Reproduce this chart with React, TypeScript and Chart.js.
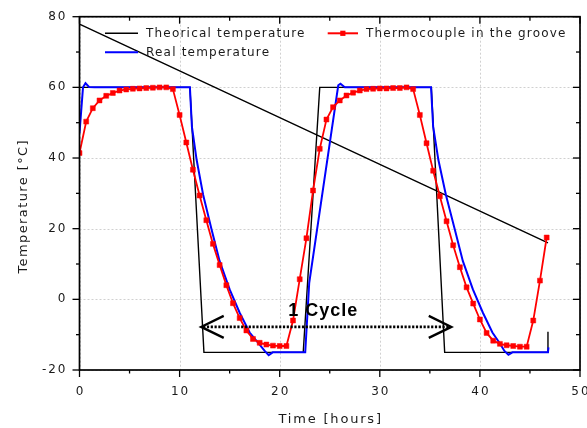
import { useEffect, useRef } from 'react';
import { Chart, registerables } from 'chart.js';

Chart.register(...registerables);

// ---- axis ticks ----
const X_TICKS = [0, 10, 20, 30, 40, 50];
const X_MINOR = [5, 15, 25, 35, 45];
const Y_TICKS = [-20, 0, 20, 40, 60, 80];
const Y_MINOR = [-10, 10, 30, 50, 70];

// ---- series: Thermocouple in the groove (red, squares) ----
const THERMO_T = [
  0, 0.67, 1.33, 2, 2.67, 3.33, 4, 4.67, 5.33, 6, 6.67, 7.33, 8, 8.67, 9.33, 10,
  10.67, 11.33, 12, 12.67, 13.33, 14, 14.67, 15.33, 16, 16.67, 17.33, 18, 18.67,
  19.33, 20, 20.67, 21.33, 22, 22.67, 23.33, 24, 24.67, 25.33, 26, 26.67, 27.33,
  28, 28.67, 29.33, 30, 30.67, 31.33, 32, 32.67, 33.33, 34, 34.67, 35.33, 36,
  36.67, 37.33, 38, 38.67, 39.33, 40, 40.67, 41.33, 42, 42.67, 43.33, 44, 44.67,
  45.33, 46, 46.67,
];
const THERMO_V = [
  41.4, 50.3, 54.1, 56.3, 57.6, 58.4, 59.1, 59.4, 59.6, 59.7, 59.8, 59.9, 60.0,
  60.0, 59.5, 52.2, 44.4, 36.7, 29.4, 22.4, 15.7, 9.7, 4.0, -1.1, -5.3, -8.8,
  -11.2, -12.3, -12.8, -13.1, -13.2, -13.2, -6.0, 5.7, 17.3, 30.8, 42.6, 50.9,
  54.4, 56.3, 57.7, 58.5, 59.1, 59.5, 59.6, 59.7, 59.7, 59.8, 59.8, 60.0, 59.5,
  52.2, 44.2, 36.4, 29.2, 22.1, 15.3, 9.1, 3.4, -1.2, -5.7, -9.5, -11.7, -12.6,
  -13.0, -13.2, -13.4, -13.4, -6.0, 5.3, 17.5,
];

// ---- series: Real temperature (blue) ----
const REAL_T = [
  0, 0.35, 0.6, 0.95, 1.5, 11.03, 11.23, 11.7, 12.35, 13.2, 14.0, 15.0, 16.0,
  17.0, 17.85, 18.5, 18.9, 19.3, 22.55, 22.95, 25.85, 26.07, 26.5, 35.12, 35.33,
  35.85, 36.6, 37.5, 38.3, 39.3, 40.3, 41.25, 42.0, 42.45, 42.85, 43.25, 46.8,
  46.85,
];
const REAL_V = [
  47, 60, 61.2, 60.1, 60, 60, 48.9, 39.5, 29.6, 19.7, 10.8, 2.8, -3.8, -9.4,
  -12.3, -14.6, -15.8, -15, -15, 4.7, 60.6, 61.0, 60, 60, 48.9, 39.5, 29.6,
  19.7, 10.8, 2.8, -3.8, -9.4, -12.5, -14.6, -15.7, -15, -15, -13.6,
];

// ---- series: Theorical temperature (black); null = break in the line ----
const THEO_T = [0, 11.03, 12.43, 22.35, 24.0, 35.15, 36.48, 46.8, 46.8, 46.8, 46.8, 0];
const THEO_V = [60, 60, -15, -15, 60, 60, -15, -15, -9.2, null, 16.0, 77.9];

// ---- "1 Cycle" annotation (data coordinates) ----
const CYCLE_FROM = 12.15;
const CYCLE_TO = 37.15;
const CYCLE_Y = -7.8;
const CYCLE_LABEL = '1 Cycle';
const CYCLE_LABEL_X = 24.3;
const CYCLE_LABEL_Y = -4.7;

const LEGEND = [
  { label: 'Theorical temperature', color: '#000000' },
  { label: 'Real temperature', color: '#0000ff' },
  { label: 'Thermocouple in the groove', color: '#ff0000' },
];

const zip = (t: number[], v: (number | null)[]) => t.map((x, i) => ({ x, y: v[i] }));

function spacedText(
  ctx: CanvasRenderingContext2D,
  s: string,
  x: number,
  y: number,
  align: 'left' | 'center' | 'right',
  sp: number,
) {
  (ctx as any).letterSpacing = sp + 'px';
  ctx.textAlign = 'left';
  const w = ctx.measureText(s).width - sp;
  const x0 = align === 'center' ? x - w / 2 : align === 'right' ? x - w : x;
  ctx.fillText(s, x0, y);
  (ctx as any).letterSpacing = '0px';
}

const decorPlugin = {
  id: 'decor',
  beforeDatasetsDraw(chart: any) {
    const { ctx, chartArea: a, scales } = chart;
    const xs = scales.x;
    const ys = scales.y;
    ctx.save();
    ctx.strokeStyle = '#d0d0d0';
    ctx.lineWidth = 1;
    ctx.setLineDash([2, 2]);
    X_TICKS.forEach((v) => {
      const px = Math.round(xs.getPixelForValue(v)) + 0.5;
      ctx.beginPath();
      ctx.moveTo(px, a.top);
      ctx.lineTo(px, a.bottom);
      ctx.stroke();
    });
    Y_TICKS.forEach((v) => {
      const py = Math.round(ys.getPixelForValue(v)) + 0.5;
      ctx.beginPath();
      ctx.moveTo(a.left, py);
      ctx.lineTo(a.right, py);
      ctx.stroke();
    });
    ctx.restore();
  },
  afterDatasetsDraw(chart: any) {
    const { ctx, chartArea: a, scales } = chart;
    const xs = scales.x;
    const ys = scales.y;
    ctx.save();
    ctx.setLineDash([]);
    // frame
    ctx.strokeStyle = '#000';
    ctx.lineWidth = 1.7;
    ctx.strokeRect(a.left, a.top, a.right - a.left, a.bottom - a.top);
    // tick marks
    ctx.lineWidth = 1.3;
    const tick = (x1: number, y1: number, x2: number, y2: number) => {
      ctx.beginPath();
      ctx.moveTo(x1, y1);
      ctx.lineTo(x2, y2);
      ctx.stroke();
    };
    X_TICKS.forEach((v) => {
      const px = xs.getPixelForValue(v);
      tick(px, a.bottom, px, a.bottom + 7);
      tick(px, a.top, px, a.top + 7);
    });
    X_MINOR.forEach((v) => {
      const px = xs.getPixelForValue(v);
      tick(px, a.bottom, px, a.bottom + 3.5);
      tick(px, a.top, px, a.top + 4);
    });
    Y_TICKS.forEach((v) => {
      const py = ys.getPixelForValue(v);
      tick(a.left - 7, py, a.left, py);
      tick(a.right - 7, py, a.right, py);
    });
    Y_MINOR.forEach((v) => {
      const py = ys.getPixelForValue(v);
      tick(a.left - 3.5, py, a.left, py);
      tick(a.right - 4, py, a.right, py);
    });
    // tick labels
    ctx.fillStyle = '#1a1a1a';
    ctx.font = '12px "DejaVu Sans"';
    ctx.textBaseline = 'middle';
    X_TICKS.forEach((v) => {
      spacedText(ctx, String(v), xs.getPixelForValue(v), a.bottom + 22, 'center', 2);
    });
    Y_TICKS.forEach((v) => {
      spacedText(ctx, String(v), a.left - 14, ys.getPixelForValue(v), 'right', 2);
    });
    // axis titles
    ctx.font = '13px "DejaVu Sans"';
    spacedText(ctx, 'Time [hours]', (a.left + a.right) / 2, a.bottom + 50, 'center', 1.8);
    ctx.save();
    ctx.translate(23.5, 207);
    ctx.rotate(-Math.PI / 2);
    spacedText(ctx, 'Temperature [°C]', 0, 0, 'center', 1.4);
    ctx.restore();

    // 1 Cycle annotation
    const ax1 = xs.getPixelForValue(CYCLE_FROM);
    const ax2 = xs.getPixelForValue(CYCLE_TO);
    const ay = ys.getPixelForValue(CYCLE_Y);
    ctx.strokeStyle = '#000';
    ctx.lineWidth = 2.6;
    ctx.setLineDash([2.2, 1.6]);
    tick(ax1 + 2, ay, ax2 - 2, ay);
    ctx.setLineDash([]);
    ctx.lineWidth = 2.3;
    ctx.beginPath();
    ctx.moveTo(ax1 + 22.6, ay - 11);
    ctx.lineTo(ax1, ay);
    ctx.lineTo(ax1 + 22.6, ay + 11);
    ctx.stroke();
    ctx.beginPath();
    ctx.moveTo(ax2 - 22.6, ay - 11);
    ctx.lineTo(ax2, ay);
    ctx.lineTo(ax2 - 22.6, ay + 11);
    ctx.stroke();
    ctx.fillStyle = '#000';
    ctx.font = 'bold 18px "Liberation Sans"';
    ctx.textBaseline = 'alphabetic';
    spacedText(ctx, CYCLE_LABEL, xs.getPixelForValue(CYCLE_LABEL_X), ys.getPixelForValue(CYCLE_LABEL_Y), 'center', 1);

    // legend
    ctx.font = '12px "DejaVu Sans"';
    ctx.textBaseline = 'middle';
    ctx.fillStyle = '#1a1a1a';
    const row = (x1: number, x2: number, y: number, color: string, label: string, marker: boolean, width: number) => {
      ctx.strokeStyle = color;
      ctx.lineWidth = width;
      tick(x1, y, x2, y);
      if (marker) {
        ctx.fillStyle = color;
        ctx.fillRect((x1 + x2) / 2 - 2.6, y - 2.6, 5.2, 5.2);
      }
      ctx.fillStyle = '#1a1a1a';
      spacedText(ctx, label, x2 + 8, y + 0.5, 'left', 1.2);
    };
    row(105, 138, 33.3, LEGEND[0].color, LEGEND[0].label, false, 1.6);
    row(105, 138, 52.3, LEGEND[1].color, LEGEND[1].label, false, 2);
    row(327.7, 358, 33.3, LEGEND[2].color, LEGEND[2].label, true, 2);
    ctx.restore();
  },
};

export default function App() {
  const ref = useRef<HTMLCanvasElement | null>(null);
  useEffect(() => {
    if (!ref.current) return;
    const chart = new Chart(ref.current, {
      type: 'line',
      data: {
        datasets: [
          {
            label: LEGEND[0].label,
            data: zip(THEO_T, THEO_V) as any,
            borderColor: '#000000',
            borderWidth: 1.4,
            pointRadius: 0,
            tension: 0,
            spanGaps: false,
            order: 3,
          },
          {
            label: LEGEND[1].label,
            data: zip(REAL_T, REAL_V) as any,
            borderColor: '#0000ff',
            borderWidth: 2,
            pointRadius: 0,
            tension: 0,
            order: 2,
          },
          {
            label: LEGEND[2].label,
            data: zip(THERMO_T, THERMO_V) as any,
            borderColor: '#ff0000',
            backgroundColor: '#ff0000',
            borderWidth: 1.8,
            pointStyle: 'rect',
            pointRadius: 3.5,
            pointBorderWidth: 0.5,
            tension: 0,
            order: 1,
          },
        ],
      },
      options: {
        animation: false,
        responsive: true,
        maintainAspectRatio: false,
        layout: { padding: { top: 16.7, right: 7, left: 0, bottom: 0 } },
        plugins: { legend: { display: false }, tooltip: { enabled: false } },
        scales: {
          x: {
            type: 'linear',
            min: 0,
            max: 50,
            ticks: { display: false, stepSize: 10 },
            grid: { display: false, drawTicks: false },
            border: { display: false },
            afterFit: (s: any) => {
              s.height = 58;
            },
          },
          y: {
            type: 'linear',
            min: -20,
            max: 80,
            ticks: { display: false, stepSize: 20 },
            grid: { display: false, drawTicks: false },
            border: { display: false },
            afterFit: (s: any) => {
              s.width = 79.5;
            },
          },
        },
      },
      plugins: [decorPlugin],
    });
    return () => chart.destroy();
  }, []);
  return (
    <div style={{ position: 'fixed', left: 0, top: 0, width: 587, height: 428 }}>
      <canvas ref={ref} />
    </div>
  );
}
